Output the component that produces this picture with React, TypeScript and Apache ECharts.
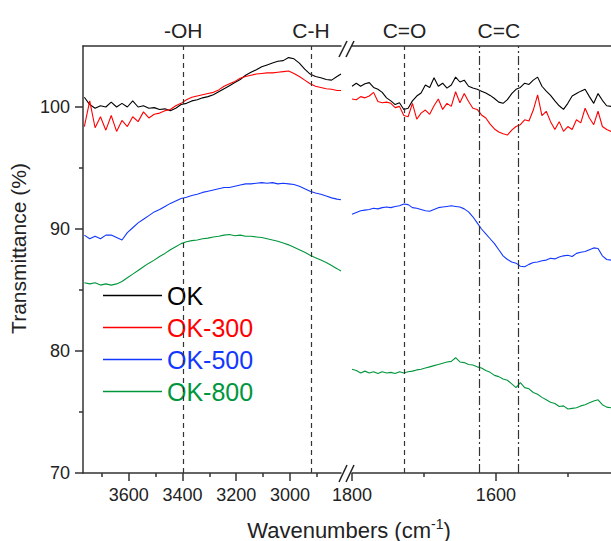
import React, { useEffect, useRef } from "react";
import * as echarts from "echarts";

// ---------- data ----------
const leftWavenumbers = [
  3765, 3745, 3725, 3705, 3685, 3665, 3645, 3625, 3605, 3585, 3565, 3545, 3525, 3505, 3485, 3465, 3445,
  3425, 3405, 3385, 3365, 3345, 3325, 3305, 3285, 3265, 3245, 3225, 3205, 3185, 3165, 3145, 3125, 3105,
  3085, 3065, 3045, 3025, 3005, 2985, 2965, 2945, 2925, 2905, 2885, 2865, 2845, 2825, 2810,
];
const okLeft = [
  100.8, 100.2, 99.9, 100.1, 100.0, 100.4, 100.0, 100.3, 100.0, 100.5, 100.0, 100.1, 99.9, 99.95, 99.8,
  99.85, 99.7, 99.9, 100.2, 100.3, 100.5, 100.6, 100.75, 100.85, 101.0, 101.25, 101.5, 101.75, 102.0,
  102.25, 102.6, 102.85, 103.05, 103.3, 103.45, 103.6, 103.75, 103.8, 104.05, 103.95, 103.6, 103.1, 102.7,
  102.5, 102.4, 102.25, 102.2, 102.5, 102.7,
];
const ok300Left = [
  98.4, 100.5, 98.3, 99.2, 98.1, 99.3, 98.0, 98.9, 98.4, 99.2, 98.8, 99.6, 99.1, 99.4, 99.5, 99.7, 99.8,
  100.1, 100.3, 100.6, 100.8, 100.9, 101.0, 101.1, 101.2, 101.4, 101.7, 101.9, 102.1, 102.35, 102.5, 102.6,
  102.7, 102.75, 102.8, 102.8, 102.85, 102.9, 102.95, 102.75, 102.5, 102.2, 101.9, 101.7, 101.6, 101.5,
  101.45, 101.35, 101.35,
];
const ok500Left = [
  89.5, 89.2, 89.4, 89.2, 89.5, 89.5, 89.3, 89.1, 89.7, 90.1, 90.5, 90.8, 91.1, 91.4, 91.6, 91.85, 92.1,
  92.3, 92.5, 92.6, 92.75, 92.85, 93.0, 93.1, 93.2, 93.3, 93.4, 93.4, 93.5, 93.6, 93.7, 93.7, 93.75, 93.8,
  93.75, 93.8, 93.7, 93.75, 93.7, 93.65, 93.5, 93.3, 93.1, 92.95, 92.85, 92.7, 92.55, 92.45, 92.4,
];
const ok800Left = [
  85.6, 85.5, 85.6, 85.4, 85.5, 85.4, 85.5, 85.7, 86.0, 86.3, 86.6, 86.9, 87.2, 87.45, 87.75, 88.0, 88.3,
  88.55, 88.8, 88.95, 89.05, 89.1, 89.2, 89.25, 89.35, 89.4, 89.5, 89.55, 89.45, 89.5, 89.4, 89.4, 89.35,
  89.3, 89.2, 89.1, 89.0, 88.85, 88.7, 88.5, 88.3, 88.1, 87.85, 87.65, 87.45, 87.25, 87.0, 86.75, 86.55,
];

const rightWavenumbers = [
  1800, 1794, 1788, 1782, 1776, 1770, 1764, 1758, 1752, 1746, 1740, 1734, 1728, 1722, 1716, 1710, 1704,
  1698, 1692, 1686, 1680, 1674, 1668, 1662, 1656, 1650, 1644, 1638, 1632, 1626, 1620, 1614, 1608, 1602,
  1596, 1590, 1584, 1578, 1572, 1566, 1560, 1554, 1548, 1542, 1536, 1530, 1524, 1518, 1512, 1506, 1500,
  1494, 1488, 1482, 1476, 1470, 1464, 1458, 1452, 1446, 1440,
];
const okRight = [
  101.7, 101.95, 101.7, 101.9, 102.0, 101.6, 101.45, 101.2, 100.75, 100.5, 100.2, 100.35, 99.8, 99.9, 100.5,
  100.9, 101.15, 101.8, 101.6, 102.4, 101.7, 101.95, 101.55, 101.8, 102.45, 102.05, 102.2, 101.7, 101.55,
  101.45, 101.3, 101.15, 100.95, 100.7, 100.4, 100.3, 100.6, 101.1, 101.45, 101.6, 101.95, 101.85, 102.2,
  102.45, 101.7, 101.3, 100.95, 100.5, 100.1, 99.8, 100.3, 100.9, 101.1, 101.3, 101.45, 100.85, 100.3,
  101.1, 100.55, 100.1, 100.05,
];
const ok300Right = [
  100.65, 100.6, 100.85, 100.75, 100.9, 101.2, 100.45, 100.35, 100.4, 100.3, 99.95, 100.05, 99.3, 99.2,
  100.3, 99.0, 99.5, 99.75, 99.4, 100.1, 100.65, 99.8, 100.3, 100.05, 101.25, 100.35, 101.1, 100.45, 99.9,
  99.8, 99.35, 99.1, 98.6, 98.2, 97.95, 97.8, 97.7, 98.1, 98.4, 98.55, 98.95, 98.85, 99.75, 101.0, 99.3,
  99.65, 98.8, 98.15, 98.8, 98.0, 98.4, 98.15, 98.95, 98.7, 99.9, 99.1, 98.55, 99.65, 98.4, 98.15, 98.0,
];
const ok500Right = [
  91.2, 91.35, 91.5, 91.55, 91.6, 91.7, 91.65, 91.75, 91.8, 91.75, 91.85, 91.9, 92.05, 92.0, 91.75, 91.7,
  91.6, 91.5, 91.45, 91.6, 91.75, 91.8, 91.85, 91.9, 91.85, 91.8, 91.65, 91.4, 91.0, 90.5, 90.0, 89.6, 89.2,
  88.8, 88.3, 87.8, 87.5, 87.3, 87.2, 86.95, 86.9, 87.1, 87.25, 87.3, 87.4, 87.45, 87.6, 87.55, 87.7, 87.8,
  87.85, 87.75, 88.0, 88.1, 88.15, 88.3, 88.45, 88.4, 87.8, 87.5, 87.45,
];
const ok800Right = [
  78.5, 78.4, 78.2, 78.35, 78.2, 78.3, 78.15, 78.3, 78.2, 78.25, 78.15, 78.3, 78.2, 78.3, 78.35, 78.45, 78.5,
  78.6, 78.7, 78.8, 78.9, 79.0, 79.1, 79.15, 79.45, 79.1, 79.05, 78.9, 78.85, 78.7, 78.6, 78.4, 78.25, 78.0,
  77.9, 77.7, 77.6, 77.3, 77.0, 77.4, 77.0, 76.9, 76.6, 76.45, 76.2, 76.0, 75.8, 75.7, 75.45, 75.5, 75.25,
  75.3, 75.35, 75.5, 75.6, 75.75, 75.9, 76.0, 75.6, 75.4, 75.35,
];

const seriesNames = ["OK", "OK-300", "OK-500", "OK-800"];
const seriesColors = ["#000000", "#ff0000", "#1237ff", "#00963c"];
const leftValues = [okLeft, ok300Left, ok500Left, ok800Left];
const rightValues = [okRight, ok300Right, ok500Right, ok800Right];

const leftMajorTicks = [3600, 3400, 3200, 3000];
const rightMajorTicks = [1800, 1600];
const yMajorTicks = [70, 80, 90, 100];

const leftBands = [
  { at: 3397, label: "-OH" },
  { at: 2922, label: "C-H" },
];
const rightDashed = [{ at: 1727, label: "C=O" }];
const rightDashDot = [1623, 1569];
const ccLabel = { at: 1596, label: "C=C" };

const FONT = "'Liberation Sans', Arial, Helvetica, sans-serif";
const AXIS_COLOR = "#333";
const TEXT_COLOR = "#222";

export default function App() {
  const ref = useRef<HTMLDivElement>(null);

  useEffect(() => {
    if (!ref.current) return;
    const chart = echarts.init(ref.current, undefined, { renderer: "svg" });

    const gridTop = 46;
    const gridHeight = 427;
    const yMin = 70;
    const yMax = 105;
    const plain = (v: number) => String(v);
    const minor = { show: true, splitNumber: 2, length: 4, lineStyle: { color: AXIS_COLOR, width: 1.5 } };

    const makeX = (grid: number, min: number, max: number, split: number, major: number[]) => [
      {
        type: "value", gridIndex: grid, min, max, inverse: true, position: "bottom", splitNumber: split,
        axisLine: { show: true, lineStyle: { color: AXIS_COLOR, width: 1.5 } },
        axisTick: { show: true, customValues: major, length: 8, lineStyle: { color: AXIS_COLOR, width: 1.5 } },
        minorTick: minor,
        axisLabel: { show: true, customValues: major, formatter: plain, fontSize: 18, fontFamily: FONT, color: TEXT_COLOR, margin: 13 },
        splitLine: { show: false },
        minorSplitLine: { show: false },
      },
      {
        type: "value", gridIndex: grid, min, max, inverse: true, position: "top",
        axisLine: { show: true, lineStyle: { color: AXIS_COLOR, width: 1.5 } },
        axisTick: { show: false },
        axisLabel: { show: false },
        splitLine: { show: false },
      },
    ];

    const xAxes = [
      ...makeX(0, 2810, 3770, 5, leftMajorTicks),
      ...makeX(1, 1440, 1800, 2, rightMajorTicks),
    ];

    const yAxes = [
      {
        type: "value", gridIndex: 0, min: yMin, max: yMax, interval: 10, position: "left",
        axisLine: { show: true, lineStyle: { color: AXIS_COLOR, width: 1.5 } },
        axisTick: { show: true, customValues: yMajorTicks, length: 8, lineStyle: { color: AXIS_COLOR, width: 1.5 } },
        minorTick: minor,
        axisLabel: { show: true, customValues: yMajorTicks, formatter: plain, fontSize: 18, fontFamily: FONT, color: TEXT_COLOR, margin: 13 },
        splitLine: { show: false },
        minorSplitLine: { show: false },
        name: "Transmittance (%)",
        nameLocation: "middle",
        nameGap: 54,
        nameTextStyle: { fontSize: 21, fontFamily: FONT, color: TEXT_COLOR, padding: [0, 0, 0, 22] },
      },
      {
        type: "value", gridIndex: 1, min: yMin, max: yMax, show: false,
        splitLine: { show: false },
      },
    ];

    const bandLabelStyle = {
      show: true, position: "top", distance: 5, fontSize: 21, fontFamily: FONT, color: TEXT_COLOR,
    };

    const series: any[] = [];
    seriesNames.forEach((name, i) => {
      const left: any = {
        name, type: "line", xAxisIndex: 0, yAxisIndex: 0,
        data: leftWavenumbers.map((w, k) => [w, leftValues[i][k]]),
        showSymbol: false, symbol: "none",
        lineStyle: { color: seriesColors[i], width: 1.1 }, itemStyle: { color: seriesColors[i] },
        z: 3,
      };
      const right: any = {
        name, type: "line", xAxisIndex: 2, yAxisIndex: 1,
        data: rightWavenumbers.map((w, k) => [w, rightValues[i][k]]),
        showSymbol: false, symbol: "none",
        lineStyle: { color: seriesColors[i], width: 1.1 }, itemStyle: { color: seriesColors[i] },
        z: 3,
      };
      if (i === 0) {
        left.markLine = {
          silent: true, symbol: ["none", "none"], label: { show: false },
          lineStyle: { color: "#333", width: 1.2, type: [5, 4] },
          data: leftBands.map((b) => ({ xAxis: b.at })),
        };
        left.markPoint = {
          silent: true, symbol: "circle", symbolSize: 0,
          label: bandLabelStyle,
          data: leftBands.map((b) => ({ coord: [b.at, yMax], value: b.label, label: { formatter: b.label } })),
        };
        right.markLine = {
          silent: true, symbol: ["none", "none"], label: { show: false },
          lineStyle: { color: "#333", width: 1.2, type: [5, 4] },
          data: [
            ...rightDashed.map((b) => ({ xAxis: b.at })),
            ...rightDashDot.map((v) => ({ xAxis: v, lineStyle: { type: [9, 3, 2, 3], color: "#333", width: 1.2 } })),
          ],
        };
        right.markPoint = {
          silent: true, symbol: "circle", symbolSize: 0,
          label: bandLabelStyle,
          data: [...rightDashed, ccLabel].map((b) => ({ coord: [b.at, yMax], value: b.label, label: { formatter: b.label } })),
        };
      }
      series.push(left, right);
    });

    const breakColor = "#222";
    const slash = (x1: number, y1: number, x2: number, y2: number) => ({
      type: "line", silent: true, z: 10,
      shape: { x1, y1, x2, y2 },
      style: { stroke: breakColor, lineWidth: 1.5 },
    });

    chart.setOption({
      animation: false,
      backgroundColor: "#ffffff",
      textStyle: { fontFamily: FONT },
      grid: [
        { left: 83, top: gridTop, width: 258, height: gridHeight },
        { left: 352, top: gridTop, width: 259, height: gridHeight },
      ],
      xAxis: xAxes,
      yAxis: yAxes,
      legend: {
        orient: "vertical", left: 103, top: 283, padding: 0,
        icon: "rect", itemWidth: 59, itemHeight: 1.5, itemGap: 7,
        textStyle: { fontSize: 25, fontFamily: FONT },
        data: seriesNames.map((n, i) => ({ name: n, textStyle: { color: seriesColors[i] } })),
        selectedMode: false,
      },
      series,
      graphic: [
        slash(339, 57, 347, 41),
        slash(346, 57, 354, 41),
        slash(339, 482, 347, 465),
        slash(346, 482, 354, 465),
        {
          type: "text", silent: true, x: 349, y: 530,
          style: {
            text: "Wavenumbers (cm{sup|-1})",
            fill: TEXT_COLOR, font: `22px ${FONT}`,
            align: "center", verticalAlign: "middle",
            rich: { sup: { fontSize: 14, fontFamily: FONT, fill: TEXT_COLOR, padding: [0, 0, 12, 0] } },
          },
        },
      ],
    });

    return () => chart.dispose();
  }, []);

  return (
    <div
      ref={ref}
      style={{ position: "fixed", left: 0, top: 0, width: 611, height: 541, background: "#fff" }}
    />
  );
}
